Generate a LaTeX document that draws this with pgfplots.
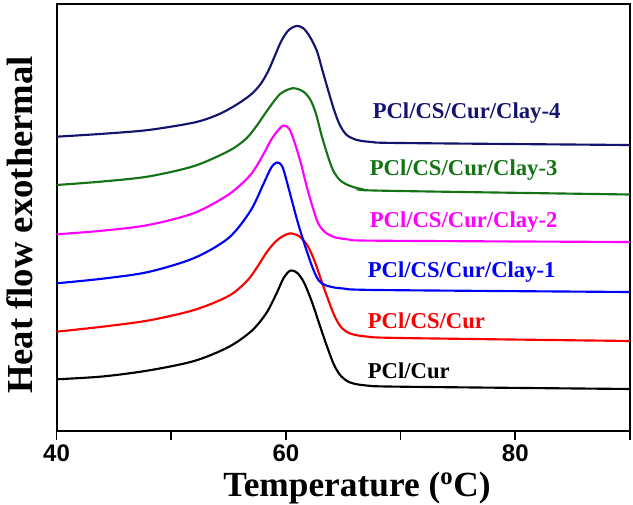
\documentclass[border=0pt]{standalone}
\usepackage{pgfplots}
\pgfplotsset{compat=1.18}
\usepackage{fontspec}
\setmainfont{Liberation Serif}
\newfontfamily\arialfont{Liberation Sans}
\definecolor{cnavy}{RGB}{20,20,110}
\definecolor{cgreen}{RGB}{20,115,20}
\definecolor{cmag}{RGB}{255,0,255}
\definecolor{cblue}{RGB}{0,0,250}
\definecolor{cred}{RGB}{250,0,0}
\begin{document}
\begin{tikzpicture}
\begin{axis}[
  at={(0,0)}, anchor=south west,
  scale only axis, width=430.1pt, height=320.6pt,
  xmin=40, xmax=90, ymin=0, ymax=427.5,
  axis line style={line width=1.5pt},
  xtick={40,60,80}, xticklabels={40,60,80},
  minor xtick={50,70,90},
  ytick=\empty,
  xtick pos=bottom, tick align=outside,
  major tick length=6.75pt, minor tick length=6.75pt,
  every tick/.style={black, line width=1.3pt},
  xticklabel style={font=\arialfont\bfseries\fontsize{18}{18}\selectfont},
  xlabel={Temperature (\textsuperscript{o}C)},
  ylabel={Heat flow exothermal},
  every axis x label/.style={at={(axis description cs:0.524,-0.133)}, anchor=center, font=\bfseries\fontsize{26.5}{26.5}\selectfont},
  every axis y label/.style={at={(axis description cs:-0.064,0.482)}, anchor=center, rotate=90, font=\bfseries\fontsize{27.5}{27.5}\selectfont},
  every axis plot/.append style={line width=1.6pt, smooth, tension=0.5},
]
% PCl/Cur
\addplot[black] coordinates {(40,51.7)(44,54.5)(48,60.5)(52,70)(55,84)(57,100)(58.3,118)(59.2,138)(59.8,153)(60.4,160.5)(61,158)(61.6,148)(62.3,128)(63,104)(63.6,84)(64.2,66)(64.8,55)(65.6,48.5)(67,45.5)(70,44.3)(90,42)};
% PCl/CS/Cur
\addplot[cred] coordinates {(40,99.3)(44,104.3)(48,110.5)(52,121)(55,135)(56.6,150)(57.5,164)(58.4,180)(59.3,191.5)(60.3,197.5)(61.2,194.5)(61.9,185)(62.5,170)(63.1,150)(63.6,134)(64.2,116)(64.8,104)(65.6,97.5)(67,94.5)(70,93)(90,90)};
% Clay-1
\addplot[cblue] coordinates {(40,147.7)(44,152.3)(48,159)(52,173)(55,193)(56.9,220)(58,246)(58.7,263)(59.2,268.5)(59.7,264)(60.3,240)(61,210)(61.7,184)(62.3,164)(62.8,151.5)(63.3,146.5)(64,144)(65,142.5)(68,141)(90,139)};
% Clay-2
\addplot[cmag] coordinates {(40,196.7)(44,200.3)(48,206)(52,218)(55,236.5)(56.9,256)(58,276)(58.7,291)(59.3,300.5)(59.8,305.5)(60.3,302)(60.8,287)(61.3,268)(61.8,245)(62.3,225)(62.8,208)(63.4,199)(64.2,194)(65.5,191.5)(68,190.3)(90,189)};
% Clay-3
\addplot[cgreen] coordinates {(40,246)(44,249.5)(48,254.5)(52,265)(55,280)(56.5,292)(57.5,306)(58.4,321)(59.5,337)(60.6,342.8)(61.5,339.5)(62.1,332)(62.6,318)(63.1,296)(63.6,277)(64.1,261)(64.7,251)(65.5,245.5)(66.6,242)(68.5,240.3)(90,236.5)};
% Clay-4
\addplot[cnavy] coordinates {(40,294.3)(44,297.2)(48,301)(52,308.5)(54,316)(55.5,325)(56.9,336)(57.8,347)(58.5,361)(59.1,377)(59.6,390)(60.2,400.5)(60.9,405)(61.5,403)(62.1,394)(62.7,380)(63.2,360)(63.7,340)(64.2,321)(64.7,306)(65.3,296)(66.2,291)(67.5,289)(70,288)(90,286)};
\node[anchor=west, inner sep=0pt, text=cnavy, font=\bfseries\fontsize{17}{17}\selectfont] at (axis cs:67.55,318) {PCl/CS/Cur/Clay-4};
\node[anchor=west, inner sep=0pt, text=cgreen, font=\bfseries\fontsize{17}{17}\selectfont] at (axis cs:67.29,261) {PCl/CS/Cur/Clay-3};
\node[anchor=west, inner sep=0pt, text=cmag, font=\bfseries\fontsize{17}{17}\selectfont] at (axis cs:67.29,209) {PCl/CS/Cur/Clay-2};
\node[anchor=west, inner sep=0pt, text=cblue, font=\bfseries\fontsize{17}{17}\selectfont] at (axis cs:67.12,159) {PCl/CS/Cur/Clay-1};
\node[anchor=west, inner sep=0pt, text=cred, font=\bfseries\fontsize{17}{17}\selectfont] at (axis cs:67.12,110) {PCl/CS/Cur};
\node[anchor=west, inner sep=0pt, text=black, font=\bfseries\fontsize{17}{17}\selectfont] at (axis cs:67.12,60) {PCl/Cur};
\end{axis}
\pgfresetboundingbox
\path (-42.4pt,-55.5pt) rectangle (432.35pt,323.25pt);
\end{tikzpicture}
\end{document}
